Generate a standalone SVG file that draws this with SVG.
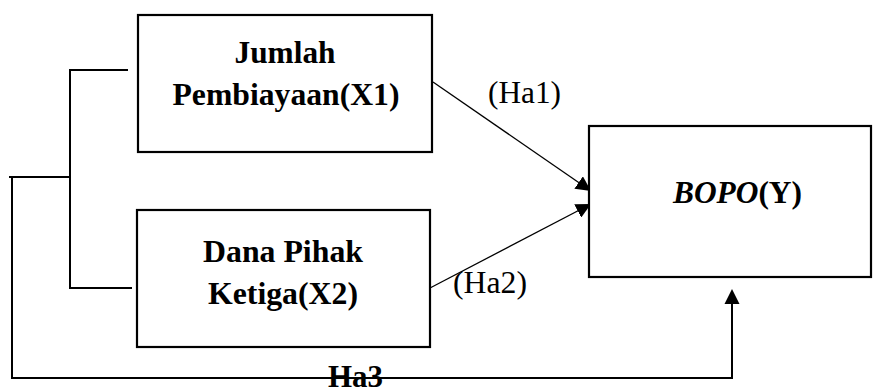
<svg xmlns="http://www.w3.org/2000/svg" width="874" height="387" viewBox="0 0 874 387">
<style>
.box{fill:#fff;stroke:#000;stroke-width:2.2}
.ln{fill:none;stroke:#000;stroke-width:2}
.ar{fill:none;stroke:#000;stroke-width:1.3}
.t{font-family:"Liberation Serif","Times New Roman",serif;font-size:31px;fill:#000}
.b{font-weight:bold}
</style>
<defs>
<marker id="ah" viewBox="0 0 10 10" refX="10" refY="5" markerWidth="15" markerHeight="15" markerUnits="userSpaceOnUse" orient="auto">
<path d="M0,0 L10,5 L0,10 Z" fill="#000"/>
</marker>
</defs>
<g id="connectors">
<polyline class="ln" points="128,70 70,70 70,288 132,288"/>
<polyline class="ln" points="9,177 70,177"/>
<polyline class="ln" points="12,177 12,378 732,378 732,303"/>
<path d="M724.5,304 L732,289 L739.5,304 Z" fill="#000"/>
<line class="ar" x1="433" y1="82" x2="591" y2="191" marker-end="url(#ah)"/>
<line class="ar" x1="430" y1="288" x2="591" y2="204" marker-end="url(#ah)"/>
<text class="t" x="488" y="103" textLength="73" lengthAdjust="spacingAndGlyphs">(Ha1)</text>
<text class="t" x="453" y="293" textLength="74" lengthAdjust="spacingAndGlyphs">(Ha2)</text>
<text class="t b" x="328" y="387" textLength="55" lengthAdjust="spacingAndGlyphs">Ha3</text>
</g>
<g id="x1">
<rect class="box" x="138" y="15" width="294" height="137"/>
<text class="t b" x="285" y="63" text-anchor="middle" textLength="101" lengthAdjust="spacingAndGlyphs">Jumlah</text>
<text class="t b" x="286" y="105" text-anchor="middle" textLength="227" lengthAdjust="spacingAndGlyphs">Pembiayaan(X1)</text>
</g>
<g id="x2">
<rect class="box" x="137" y="210" width="293" height="137"/>
<text class="t b" x="283" y="262" text-anchor="middle" textLength="160" lengthAdjust="spacingAndGlyphs">Dana Pihak</text>
<text class="t b" x="283" y="304" text-anchor="middle" textLength="150" lengthAdjust="spacingAndGlyphs">Ketiga(X2)</text>
</g>
<g id="y">
<rect class="box" x="589" y="126" width="282" height="151"/>
<text class="t b" x="673" y="203" textLength="129" lengthAdjust="spacingAndGlyphs"><tspan font-style="italic">BOPO</tspan>(Y)</text>
</g>
</svg>
